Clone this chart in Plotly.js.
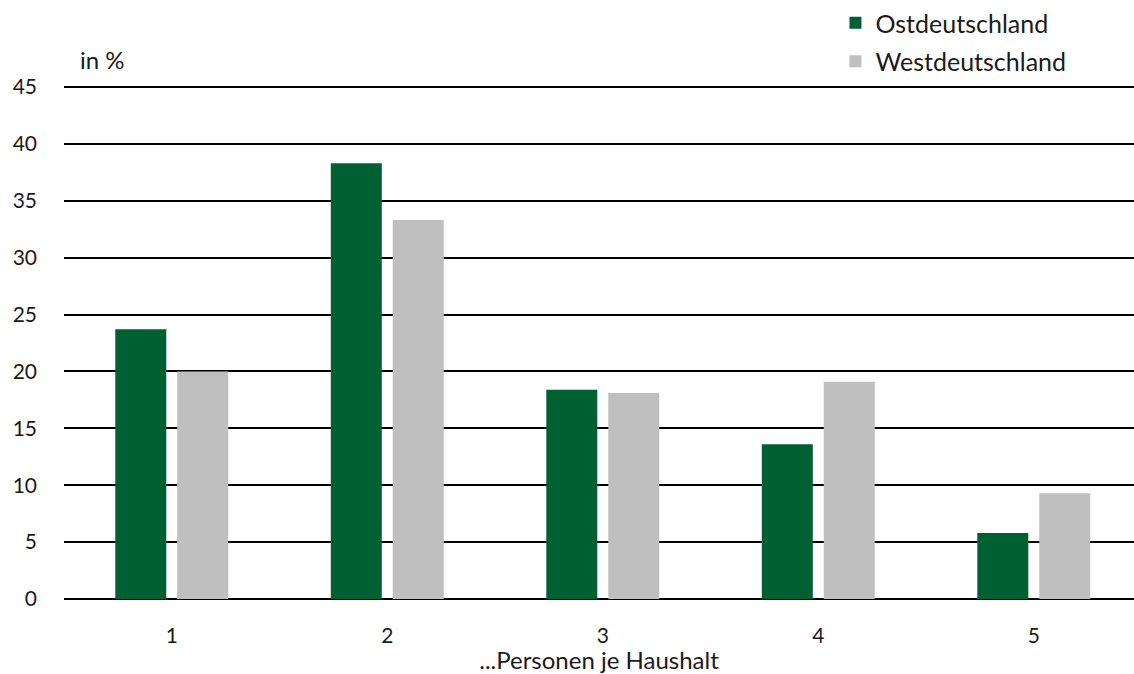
<!DOCTYPE html>
<html>
<head>
<meta charset="utf-8">
<script src="https://cdn.plot.ly/plotly-3.0.1.min.js"></script>
<style>html,body{margin:0;padding:0;background:#fff;}#chart{width:1134px;height:674px;}</style>
</head>
<body>
<div id="chart"></div>
<script>
const categories = ['1', '2', '3', '4', '5'];
const ostValues = [23.7, 38.3, 18.4, 13.6, 5.8];
const westValues = [20.0, 33.3, 18.1, 19.1, 9.3];
const yTicks = [0, 5, 10, 15, 20, 25, 30, 35, 40, 45];

const FONT = 'Lato, "Noto Sans", sans-serif';
const TXT = '#1a1a1a';

const traces = [
  {type: 'bar', name: 'Ostdeutschland', x: categories, y: ostValues, legendgroup: 'o',
   marker: {color: '#006032'}, hoverinfo: 'y'},
  {type: 'bar', name: 'Westdeutschland', x: categories, y: westValues, legendgroup: 'w',
   marker: {color: '#BFBFBF'}, hoverinfo: 'y'}
];

const layout = {
  width: 1134, height: 674,
  margin: {l: 64, r: 0, t: 0, b: 0},
  paper_bgcolor: '#fff', plot_bgcolor: '#fff',
  font: {family: FONT, size: 21, color: TXT},
  barmode: 'group',
  bargap: 0.425,
  bargroupgap: 0.177,
  showlegend: true,
  legend: {x: 0.721, y: 1, xanchor: 'left', yanchor: 'top',
           font: {family: FONT, size: 25, color: TXT},
           traceorder: 'grouped', tracegroupgap: 3, itemwidth: 30, bgcolor: 'rgba(0,0,0,0)'},
  xaxis: {type: 'category', range: [-0.5, 4.465], showgrid: false, zeroline: false,
          showline: false, ticks: '', ticklabelstandoff: 22, automargin: false,
          tickfont: {family: FONT, size: 21, color: TXT},
          title: {text: '...Personen je Haushalt', font: {family: FONT, size: 24, color: TXT}, standoff: 5},
          fixedrange: true},
  yaxis: {range: [0, 45.5], domain: [0.11128, 0.87938], tickvals: yTicks,
          showgrid: true, gridcolor: '#000', gridwidth: 2,
          zeroline: true, zerolinecolor: '#000', zerolinewidth: 2,
          showline: false, ticks: '', ticklabelstandoff: 26, automargin: false,
          tickfont: {family: FONT, size: 21, color: TXT}, fixedrange: true},
  annotations: [
    {text: 'in %', xref: 'paper', yref: 'paper', x: 0.0135, y: 0.911, xanchor: 'left', yanchor: 'middle',
     showarrow: false, font: {family: FONT, size: 24, color: TXT}}
  ]
};

Plotly.newPlot('chart', traces, layout, {displayModeBar: false, staticPlot: true});
</script>
</body>
</html>
